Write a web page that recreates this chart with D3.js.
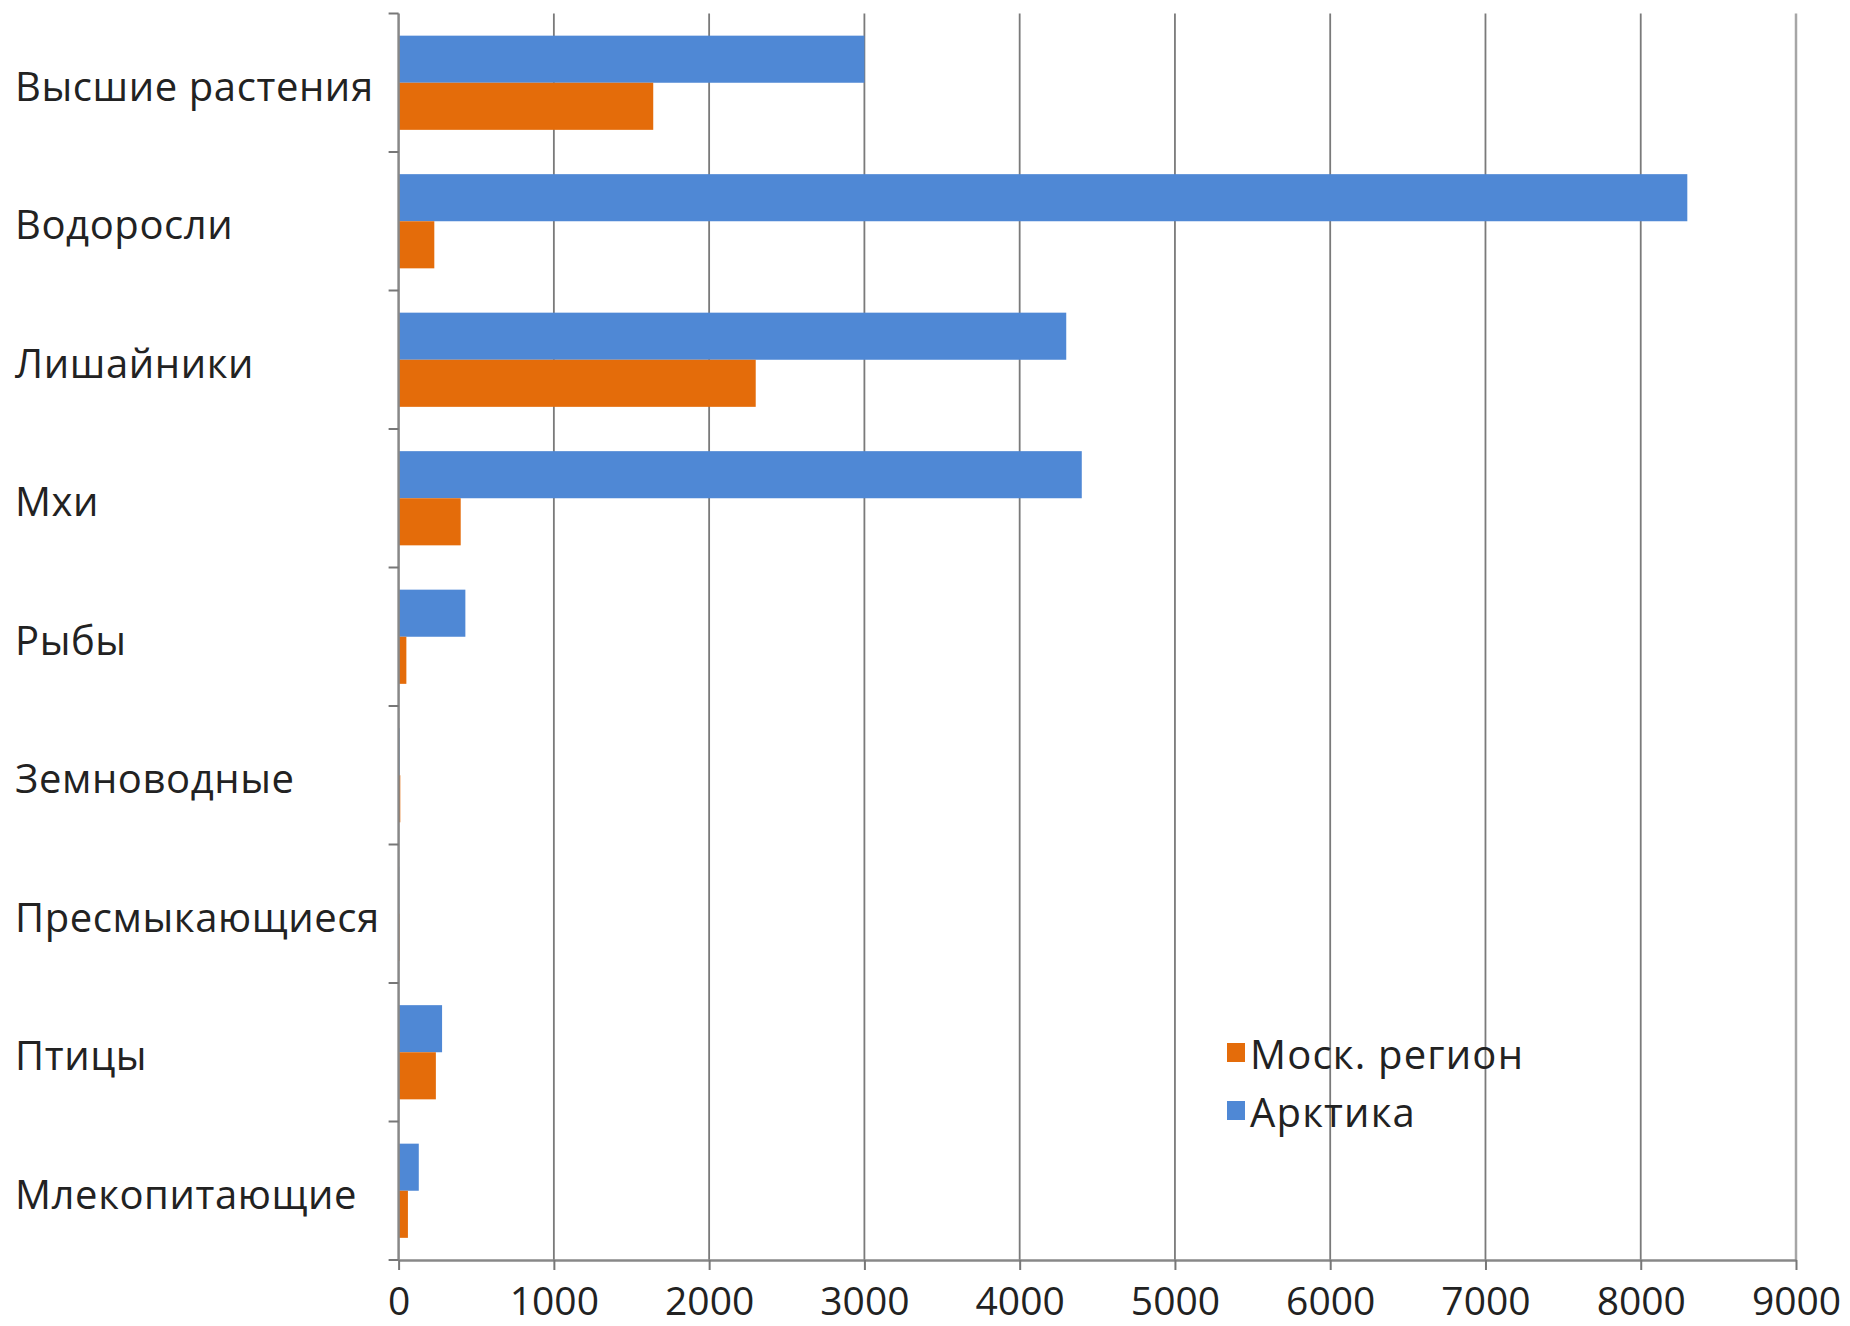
<!DOCTYPE html>
<html>
<head>
<meta charset="utf-8">
<script src="https://cdn.jsdelivr.net/npm/d3@7"></script>
<style>
  body { margin: 0; background: #fff; }
  text { font-family: "Open Sans", sans-serif; fill: #222; }
</style>
</head>
<body>
<div id="chart"></div>
<script>
// Categories, top to bottom
const categories = ["Высшие растения", "Водоросли", "Лишайники", "Мхи", "Рыбы",
  "Земноводные", "Пресмыкающиеся", "Птицы", "Млекопитающие"];

// Series values (number of species)
const arcticValues = [3000, 8300, 4300, 4400, 430, 7, 4, 280, 130];
const moscowValues = [1640, 230, 2300, 400, 50, 11, 6, 240, 60];

const seriesNames = ["Арктика", "Моск. регион"];
const legendNames = ["Моск. регион", "Арктика"];
const xTicks = [0, 1000, 2000, 3000, 4000, 5000, 6000, 7000, 8000, 9000];

const width = 1850, height = 1326;
const margin = { top: 13.5, right: 54, bottom: 66, left: 398.6 };
const colors = { "Арктика": "#4f88d5", "Моск. регион": "#e46c0a" };

const svg = d3.select("#chart").append("svg")
  .attr("width", width)
  .attr("height", height);

svg.append("rect").attr("width", width).attr("height", height).attr("fill", "#fff");

const plotW = width - margin.left - margin.right;
const plotH = height - margin.top - margin.bottom;

const x = d3.scaleLinear().domain([0, 9000]).range([margin.left, margin.left + plotW]);
const y = d3.scaleBand().domain(categories)
  .range([margin.top, margin.top + plotH])
  .paddingInner(0.32).paddingOuter(0.16);
const ySub = d3.scaleBand().domain(seriesNames).range([0, y.bandwidth()]);

// vertical gridlines
svg.append("g")
  .selectAll("line")
  .data(xTicks.slice(1))
  .join("line")
  .attr("x1", d => x(d)).attr("x2", d => x(d))
  .attr("y1", margin.top).attr("y2", margin.top + plotH)
  .attr("stroke", d => d === 9000 ? "#a6a6a6" : "#7a7a7a")
  .attr("stroke-width", d => d === 9000 ? 2.5 : 1.8);

// bars
const rows = categories.map((c, i) => ({ cat: c, "Арктика": arcticValues[i], "Моск. регион": moscowValues[i] }));
svg.append("g")
  .selectAll("g")
  .data(rows)
  .join("g")
  .attr("transform", d => `translate(0,${y(d.cat)})`)
  .selectAll("rect")
  .data(d => seriesNames.map(s => ({ s, v: d[s] })))
  .join("rect")
  .attr("x", x(0))
  .attr("y", d => ySub(d.s))
  .attr("width", d => x(d.v) - x(0))
  .attr("height", ySub.bandwidth())
  .attr("fill", d => colors[d.s]);

// bottom axis
const xAxis = svg.append("g")
  .attr("transform", `translate(0,${margin.top + plotH})`)
  .call(d3.axisBottom(x).tickValues(xTicks).tickFormat(d3.format("d"))
    .tickSize(10).tickSizeOuter(0).tickPadding(17));
xAxis.select(".domain").attr("stroke", "#888").attr("stroke-width", 2.5);
xAxis.selectAll(".tick line").attr("stroke", "#777").attr("stroke-width", 2);
xAxis.selectAll(".tick text")
  .style("font-family", "'Open Sans', sans-serif")
  .style("font-size", "39px")
  .attr("fill", "#222");

// left axis line and category boundary ticks
const yAxis = svg.append("g");
yAxis.append("line")
  .attr("x1", x(0)).attr("x2", x(0))
  .attr("y1", margin.top).attr("y2", margin.top + plotH)
  .attr("stroke", "#888").attr("stroke-width", 2.5);
yAxis.selectAll("line.tick")
  .data(d3.range(categories.length + 1))
  .join("line")
  .attr("class", "tick")
  .attr("x1", x(0) - 10).attr("x2", x(0))
  .attr("y1", i => margin.top + i * y.step())
  .attr("y2", i => margin.top + i * y.step())
  .attr("stroke", "#777").attr("stroke-width", 2);

// category labels
svg.append("g")
  .selectAll("text")
  .data(categories)
  .join("text")
  .attr("x", 15)
  .attr("y", d => y(d) + y.bandwidth() / 2 + 18)
  .style("font-size", "40px")
  .style("letter-spacing", "0.6px")
  .text(d => d);

// legend
const legend = svg.append("g").attr("transform", "translate(1227,1043)");
const item = legend.selectAll("g")
  .data(legendNames)
  .join("g")
  .attr("transform", (d, i) => `translate(0,${i * 58})`);
item.append("rect")
  .attr("width", 18).attr("height", 19)
  .attr("fill", d => colors[d]);
item.append("text")
  .attr("x", 23).attr("y", 26)
  .style("font-size", "40px")
  .style("letter-spacing", "1.2px")
  .text(d => d);
</script>
</body>
</html>
